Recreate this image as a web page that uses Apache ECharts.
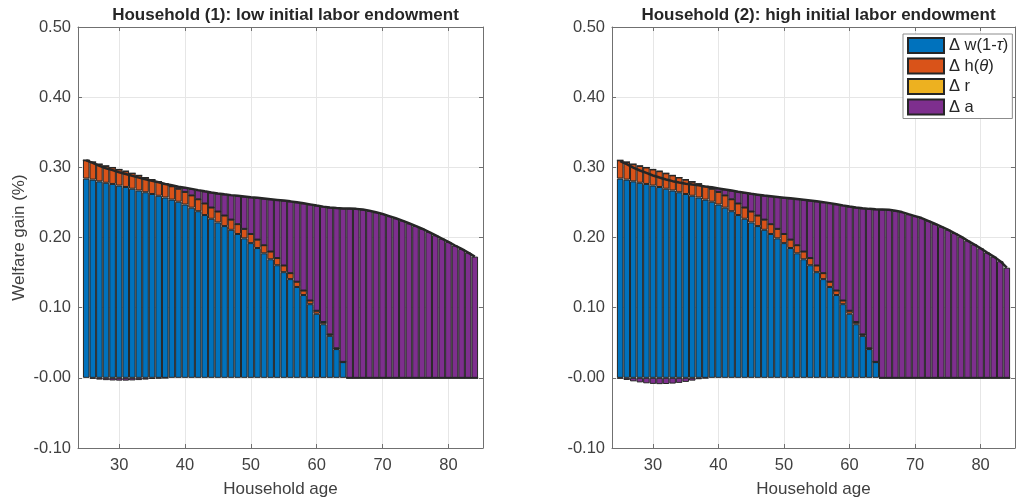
<!DOCTYPE html>
<html><head><meta charset="utf-8">
<script src="https://cdn.jsdelivr.net/npm/echarts@6/dist/echarts.min.js"></script>
<style>html,body{margin:0;padding:0;background:#fff}#c{width:1018px;height:503px}</style>
</head><body><div id="c"></div>
<script>
// ---------------- data ----------------
const ages = [25,26,27,28,29,30,31,32,33,34,35,36,37,38,39,40,41,42,43,44,
  45,46,47,48,49,50,51,52,53,54,55,56,57,58,59,60,61,62,63,64,
  65,66,67,68,69,70,71,72,73,74,75,76,77,78,79,80,81,82,83,84];

const xTicks = [30,40,50,60,70,80];
const yTickLabels = ['-0.10','-0.00','0.10','0.20','0.30','0.40','0.50'];
const seriesNames = ['Δ w(1-τ)','Δ h(θ)','Δ r','Δ a'];
const titles = ['Household (1): low initial labor endowment','Household (2): high initial labor endowment'];

// Household (1)
const wage1 = [0.284,0.2825,0.280,0.278,0.2763,0.274,0.272,0.2695,0.267,0.2645,
  0.262,0.2595,0.257,0.254,0.251,0.247,0.2425,0.2375,0.232,0.2267,
  0.2215,0.2163,0.211,0.205,0.1988,0.192,0.185,0.1775,0.169,0.1605,
  0.1506,0.1407,0.1295,0.118,0.105,0.0913,0.0764,0.0598,0.041,0.0224,
  0,0,0,0,0,0,0,0,0,0,0,0,0,0,0,0,0,0,0,0];
const hours1 = [0.026,0.025,0.0245,0.024,0.0235,0.023,0.0225,0.022,0.0215,0.021,
  0.0205,0.020,0.0195,0.019,0.0185,0.018,0.0175,0.017,0.0165,0.016,
  0.0155,0.015,0.0145,0.014,0.0135,0.013,0.012,0.0115,0.011,0.0102,
  0.0095,0.0085,0.0075,0.0064,0.0052,0.0043,0.0032,0.0022,0.0012,0.0004,
  0,0,0,0,0,0,0,0,0,0,0,0,0,0,0,0,0,0,0,0];
const rate1 = [0,0,0,0,0,0,0,0,0,0,0,0,0,0,0,0,0,0,0,0,
  0,0,0,0,0,0,0,0,0,0,0,0,0,0,0,0,0,0,0,0,
  0,0,0,0,0,0,0,0,0,0,0,0,0,0,0,0,0,0,0,0];
const assets1 = [0,-0.0012,-0.0025,-0.0033,-0.0038,-0.004,-0.004,-0.0037,-0.0032,-0.0025,
  -0.0016,-0.0008,-0.0002,0.0015,0.003,0.006,0.0093,0.013,0.0173,0.0215,
  0.0258,0.0302,0.0349,0.0404,0.0461,0.0524,0.0595,0.0666,0.0746,0.0829,
  0.0925,0.1023,0.1132,0.1244,0.137,0.1499,0.1644,0.1808,0.1998,0.2187,
  0.2413,0.2408,0.2398,0.238,0.236,0.2335,0.2305,0.2275,0.224,0.2203,
  0.2165,0.2125,0.208,0.2033,0.1985,0.1937,0.1886,0.1837,0.1785,0.1728];
const total1 = [0.310,0.3063,0.302,0.2987,0.296,0.293,0.2905,0.2878,0.2853,0.283,
  0.2809,0.2787,0.2763,0.2745,0.2725,0.271,0.2693,0.2675,0.2658,0.2642,
  0.2628,0.2615,0.2604,0.2594,0.2584,0.2574,0.2565,0.2556,0.2546,0.2536,
  0.2526,0.2515,0.2502,0.2488,0.2472,0.2455,0.244,0.2428,0.242,0.2415,
  0.2413,0.2408,0.2398,0.238,0.236,0.2335,0.2305,0.2275,0.224,0.2203,
  0.2165,0.2125,0.208,0.2033,0.1985,0.1937,0.1886,0.1837,0.1785,0.1728];

// Household (2)
const wage2 = [0.284,0.2825,0.280,0.278,0.2763,0.274,0.272,0.2695,0.267,0.2645,
  0.262,0.2595,0.257,0.254,0.251,0.247,0.2425,0.2375,0.232,0.2267,
  0.2215,0.2163,0.211,0.205,0.1988,0.192,0.185,0.1775,0.169,0.1605,
  0.1506,0.1407,0.1295,0.118,0.105,0.0913,0.0764,0.0598,0.041,0.0224,
  0,0,0,0,0,0,0,0,0,0,0,0,0,0,0,0,0,0,0,0];
const hours2 = [0.026,0.025,0.0245,0.024,0.0235,0.023,0.0225,0.022,0.0215,0.021,
  0.0205,0.020,0.0195,0.019,0.0185,0.018,0.0175,0.017,0.0165,0.016,
  0.0155,0.015,0.0145,0.014,0.0135,0.013,0.012,0.0115,0.011,0.0102,
  0.0095,0.0085,0.0075,0.0064,0.0052,0.0043,0.0032,0.0022,0.0012,0.0004,
  0,0,0,0,0,0,0,0,0,0,0,0,0,0,0,0,0,0,0,0];
const rate2 = [0,0,0,0,0,0,0,0,0,0,0,0,0,0,0,0,0,0,0,0,
  0,0,0,0,0,0,0,0,0,0,0,0,0,0,0,0,0,0,0,0,
  0,0,0,0,0,0,0,0,0,0,0,0,0,0,0,0,0,0,0,0];
const assets2 = [-0.001,-0.003,-0.005,-0.0065,-0.0078,-0.0086,-0.009,-0.0088,-0.0082,-0.0072,
  -0.0058,-0.004,-0.002,-0.0005,0.002,0.005,0.0085,0.0125,0.0167,0.021,
  0.0252,0.0297,0.0343,0.0398,0.0455,0.0518,0.0588,0.0658,0.0738,0.082,
  0.0915,0.1012,0.112,0.1231,0.1356,0.1486,0.1632,0.1796,0.1986,0.2175,
  0.240,0.2395,0.238,0.2362,0.2333,0.2305,0.2277,0.2238,0.2196,0.2154,
  0.2111,0.2064,0.2012,0.1955,0.1903,0.1847,0.1785,0.1728,0.1662,0.157];
const total2 = [0.309,0.3045,0.2995,0.2955,0.292,0.2884,0.2855,0.2827,0.2803,0.2783,
  0.2767,0.2755,0.2745,0.2725,0.2715,0.270,0.2685,0.267,0.2652,0.2637,
  0.2622,0.261,0.2598,0.2588,0.2578,0.2568,0.2558,0.2548,0.2538,0.2527,
  0.2516,0.2504,0.249,0.2475,0.2458,0.2442,0.2428,0.2416,0.2408,0.2403,
  0.240,0.2395,0.238,0.2362,0.2333,0.2305,0.2277,0.2238,0.2196,0.2154,
  0.2111,0.2064,0.2012,0.1955,0.1903,0.1847,0.1785,0.1728,0.1662,0.157];

// ---------------- styles ----------------
const colors = ['#0072BD','#D95319','#EDB120','#7E2F8E'];
const FONT = 'Liberation Sans, Arial, Helvetica, sans-serif';
const AX = '#707070';
const TXT = '#404040';
const GRIDC = '#e6e6e6';
const XMIN = 23.75, XMAX = 85.25;
const TICKFS = 16.5, NAMEFS = 17;

const grids = [
  {left: 78, top: 27, width: 405, height: 422},
  {left: 612, top: 27, width: 403, height: 422}
];

// value first, age second (so the stacked dimension is the value)
function barData(arr){ return ages.map((a,i)=>[arr[i], a]); }
function lineData(arr){ return ages.map((a,i)=>[a, arr[i]]); }

const xAxes = [], yAxes = [], series = [], titleArr = [];
const panels = [
  [wage1, hours1, rate1, assets1, total1],
  [wage2, hours2, rate2, assets2, total2]
];

panels.forEach((p, g) => {
  xAxes.push({
    type: 'value', gridIndex: g, min: XMIN, max: XMAX, position: 'bottom',
    name: 'Household age', nameLocation: 'middle', nameGap: 33,
    nameTextStyle: {fontSize: NAMEFS, color: TXT, fontFamily: FONT},
    axisLine: {show: true, onZero: false, lineStyle: {color: AX, width: 1}},
    axisTick: {show: true, inside: true, length: 4, customValues: xTicks, lineStyle: {color: AX}},
    axisLabel: {show: true, customValues: xTicks, fontSize: TICKFS, color: TXT, fontFamily: FONT, margin: 9},
    splitLine: {show: true, lineStyle: {color: GRIDC, width: 1}}
  });
  xAxes.push({
    type: 'value', gridIndex: g, min: XMIN, max: XMAX, position: 'top',
    axisLine: {show: true, onZero: false, lineStyle: {color: AX, width: 1}},
    axisTick: {show: true, inside: true, length: 4, customValues: xTicks, lineStyle: {color: AX}},
    axisLabel: {show: false}, splitLine: {show: false}
  });
  yAxes.push({
    type: 'value', gridIndex: g, min: -0.1, max: 0.5, interval: 0.1, position: 'left',
    name: g === 0 ? 'Welfare gain (%)' : '', nameLocation: 'middle', nameGap: 50,
    nameTextStyle: {fontSize: NAMEFS, color: TXT, fontFamily: FONT},
    axisLine: {show: true, onZero: false, lineStyle: {color: AX, width: 1}},
    axisTick: {show: true, inside: true, length: 4, lineStyle: {color: AX}},
    axisLabel: {show: true, fontSize: TICKFS, color: TXT, fontFamily: FONT, margin: 7,
      formatter: v => yTickLabels[Math.round(v * 10) + 1]},
    splitLine: {show: true, lineStyle: {color: GRIDC, width: 1}}
  });
  yAxes.push({
    type: 'value', gridIndex: g, min: -0.1, max: 0.5, interval: 0.1, position: 'right',
    axisLine: {show: true, onZero: false, lineStyle: {color: AX, width: 1}},
    axisTick: {show: true, inside: true, length: 4, lineStyle: {color: AX}},
    axisLabel: {show: false}, splitLine: {show: false}
  });

  for (let k = 0; k < 4; k++) {
    series.push({
      type: 'bar', name: seriesNames[k], xAxisIndex: g * 2, yAxisIndex: g * 2,
      stack: 'p' + g, stackStrategy: 'samesign',
      data: barData(p[k]), encode: {x: 1, y: 0},
      barCategoryGap: '0%', barGap: '0%',
      itemStyle: {color: colors[k], borderColor: '#262626', borderWidth: 1},
      emphasis: {disabled: true}, animation: false
    });
  }
  series.push({
    type: 'line', name: 'total' + g, xAxisIndex: g * 2, yAxisIndex: g * 2,
    data: lineData(p[4]), showSymbol: false, symbol: 'none', z: 5,
    lineStyle: {color: '#262626', width: 2.5}, animation: false
  });

  titleArr.push({
    text: titles[g], left: grids[g].left + grids[g].width / 2, top: 2, textAlign: 'center',
    textStyle: {fontSize: 17, fontWeight: 'bold', color: '#262626', fontFamily: FONT}
  });
});

const legendRich = {
  n: {fontSize: TICKFS, lineHeight: 17, color: '#262626', fontFamily: FONT},
  i: {fontSize: TICKFS, lineHeight: 17, color: '#262626', fontFamily: FONT, fontStyle: 'italic'}
};
const legendText = {
  'Δ w(1-τ)': '{n|Δ w(1-}{i|τ}{n|)}',
  'Δ h(θ)': '{n|Δ h(}{i|θ}{n|)}',
  'Δ r': '{n|Δ r}',
  'Δ a': '{n|Δ a}'
};

const chart = echarts.init(document.getElementById('c'), null, {renderer: 'canvas'});
chart.setOption({
  animation: false,
  backgroundColor: '#ffffff',
  title: titleArr,
  grid: grids,
  xAxis: xAxes,
  yAxis: yAxes,
  legend: {
    data: seriesNames, orient: 'vertical', left: 903, top: 34,
    itemWidth: 36, itemHeight: 15, itemGap: 3.5,
    padding: [3, 4, 3, 4], backgroundColor: '#fff', borderColor: '#8c8c8c', borderWidth: 1,
    icon: 'rect', selectedMode: false,
    formatter: name => legendText[name],
    textStyle: {fontSize: TICKFS, color: '#262626', fontFamily: FONT, rich: legendRich}
  },
  series: series
});
</script>
</body></html>
